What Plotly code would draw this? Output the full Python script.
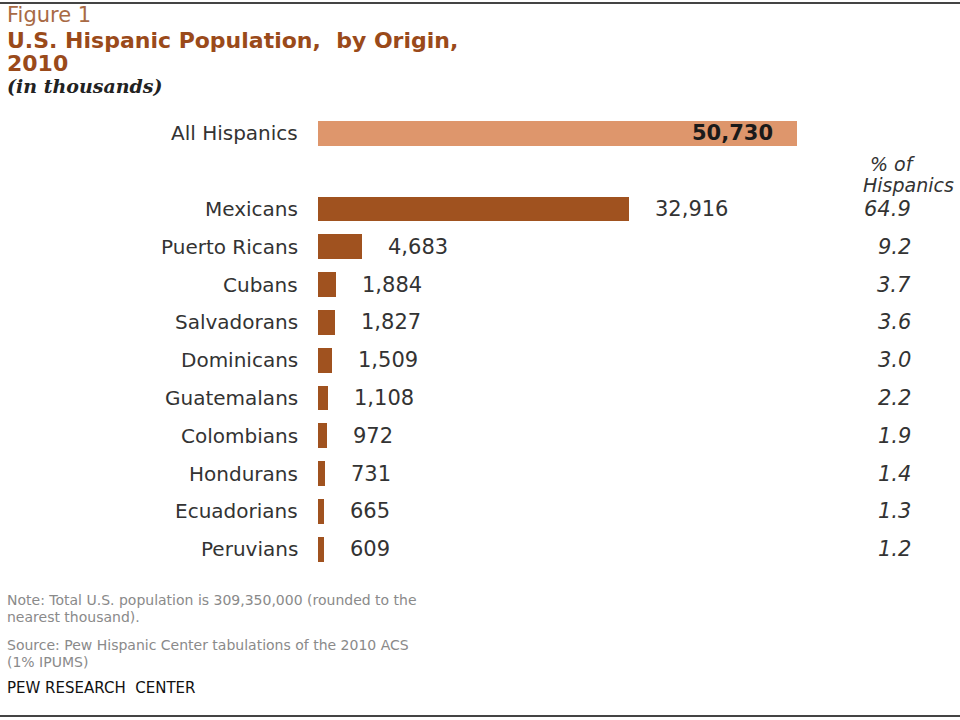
import plotly.graph_objects as go

categories = ["All Hispanics", "Mexicans", "Puerto Ricans", "Cubans", "Salvadorans",
              "Dominicans", "Guatemalans", "Colombians", "Hondurans", "Ecuadorians", "Peruvians"]
values = [50730, 32916, 4683, 1884, 1827, 1509, 1108, 972, 731, 665, 609]
value_labels = ["50,730", "32,916", "4,683", "1,884", "1,827", "1,509", "1,108", "972", "731", "665", "609"]
pct_labels = [None, "64.9", "9.2", "3.7", "3.6", "3.0", "2.2", "1.9", "1.4", "1.3", "1.2"]
row_pos = [-2, 0, 1, 2, 3, 4, 5, 6, 7, 8, 9]

W, H = 960, 720
LIGHT = "#DE966C"
DARK = "#A0521F"
TXT = "#333333"
FONT = "DejaVu Sans"

def px(p):
    return p / W

def py(p):
    return 1 - p / H

fig = go.Figure()
fig.add_trace(go.Bar(
    x=values, y=row_pos, orientation="h",
    marker=dict(color=[LIGHT] + [DARK] * (len(values) - 1), line=dict(width=0)),
    width=0.66, hoverinfo="skip", showlegend=False,
))

ann = []
for cat, v, vl, pl, r in zip(categories, values, value_labels, pct_labels, row_pos):
    ann.append(dict(x=px(300), xref="paper", y=r, yref="y", text=cat, showarrow=False,
                    xanchor="right", yanchor="middle", font=dict(family=FONT, size=20, color=TXT)))
    if cat == "All Hispanics":
        ann.append(dict(x=v, xref="x", y=r, yref="y", text="<b>" + vl + "</b>", showarrow=False,
                        xanchor="right", yanchor="middle", xshift=-22,
                        font=dict(family=FONT, size=21, color="#1a1a1a")))
    else:
        ann.append(dict(x=v, xref="x", y=r, yref="y", text=vl, showarrow=False,
                        xanchor="left", yanchor="middle", xshift=24,
                        font=dict(family=FONT, size=21, color=TXT)))
    if pl:
        ann.append(dict(x=px(913), xref="paper", y=r, yref="y", text="<i>" + pl + "</i>", showarrow=False,
                        xanchor="right", yanchor="middle", font=dict(family=FONT, size=21, color=TXT)))

ann.append(dict(x=px(918), xref="paper", y=py(164), yref="paper", text="<i>% of</i>", showarrow=False,
                xanchor="right", yanchor="middle", font=dict(family=FONT, size=19, color=TXT)))
ann.append(dict(x=px(956), xref="paper", y=py(185), yref="paper", text="<i>Hispanics</i>", showarrow=False,
                xanchor="right", yanchor="middle", font=dict(family=FONT, size=19, color=TXT)))

# Titles
ann.append(dict(x=px(5), xref="paper", y=py(15), yref="paper", text="Figure 1", showarrow=False,
                xanchor="left", yanchor="middle", font=dict(family=FONT, size=21, color="#A86A45")))
ann.append(dict(x=px(5), xref="paper", y=py(40), yref="paper",
                text="<b>U.S. Hispanic Population,  by Origin,</b>", showarrow=False,
                xanchor="left", yanchor="middle", font=dict(family=FONT, size=22, color="#9A4A1A")))
ann.append(dict(x=px(5), xref="paper", y=py(63), yref="paper", text="<b>2010</b>", showarrow=False,
                xanchor="left", yanchor="middle", font=dict(family=FONT, size=22, color="#9A4A1A")))
ann.append(dict(x=px(5), xref="paper", y=py(86), yref="paper", text="<b><i>(in thousands)</i></b>",
                showarrow=False, xanchor="left", yanchor="middle",
                font=dict(family="DejaVu Serif", size=19, color="#222222")))

# Notes
note_font = dict(family=FONT, size=14, color="#8a8a8a")
ann.append(dict(x=px(5), xref="paper", y=py(600), yref="paper",
                text="Note: Total U.S. population is 309,350,000 (rounded to the",
                showarrow=False, xanchor="left", yanchor="middle", font=note_font))
ann.append(dict(x=px(5), xref="paper", y=py(617), yref="paper", text="nearest thousand).",
                showarrow=False, xanchor="left", yanchor="middle", font=note_font))
ann.append(dict(x=px(5), xref="paper", y=py(645), yref="paper",
                text="Source: Pew Hispanic Center tabulations of the 2010 ACS",
                showarrow=False, xanchor="left", yanchor="middle", font=note_font))
ann.append(dict(x=px(5), xref="paper", y=py(662), yref="paper", text="(1% IPUMS)",
                showarrow=False, xanchor="left", yanchor="middle", font=note_font))
ann.append(dict(x=px(5), xref="paper", y=py(688), yref="paper", text="PEW RESEARCH  CENTER",
                showarrow=False, xanchor="left", yanchor="middle",
                font=dict(family=FONT, size=15, color="#111111")))

s = 479 / 50730.0  # pixels per thousand
x0_pix = 318
fig.update_layout(
    width=W, height=H,
    margin=dict(l=0, r=0, t=0, b=0),
    paper_bgcolor="white", plot_bgcolor="white",
    xaxis=dict(range=[-x0_pix / s, (W - x0_pix) / s], visible=False, fixedrange=True),
    yaxis=dict(range=[(H - 209) / 37.8, -209 / 37.8], visible=False, fixedrange=True),
    annotations=ann,
    bargap=0,
    shapes=[
        dict(type="line", xref="paper", yref="paper", x0=0, x1=1, y0=py(3), y1=py(3),
             line=dict(color="#444444", width=2)),
        dict(type="line", xref="paper", yref="paper", x0=0, x1=1, y0=py(716), y1=py(716),
             line=dict(color="#444444", width=2)),
    ],
)

fig.write_html("out.html", config={"displayModeBar": False},
               post_script="document.body.style.margin='0';document.body.style.overflow='hidden';")
